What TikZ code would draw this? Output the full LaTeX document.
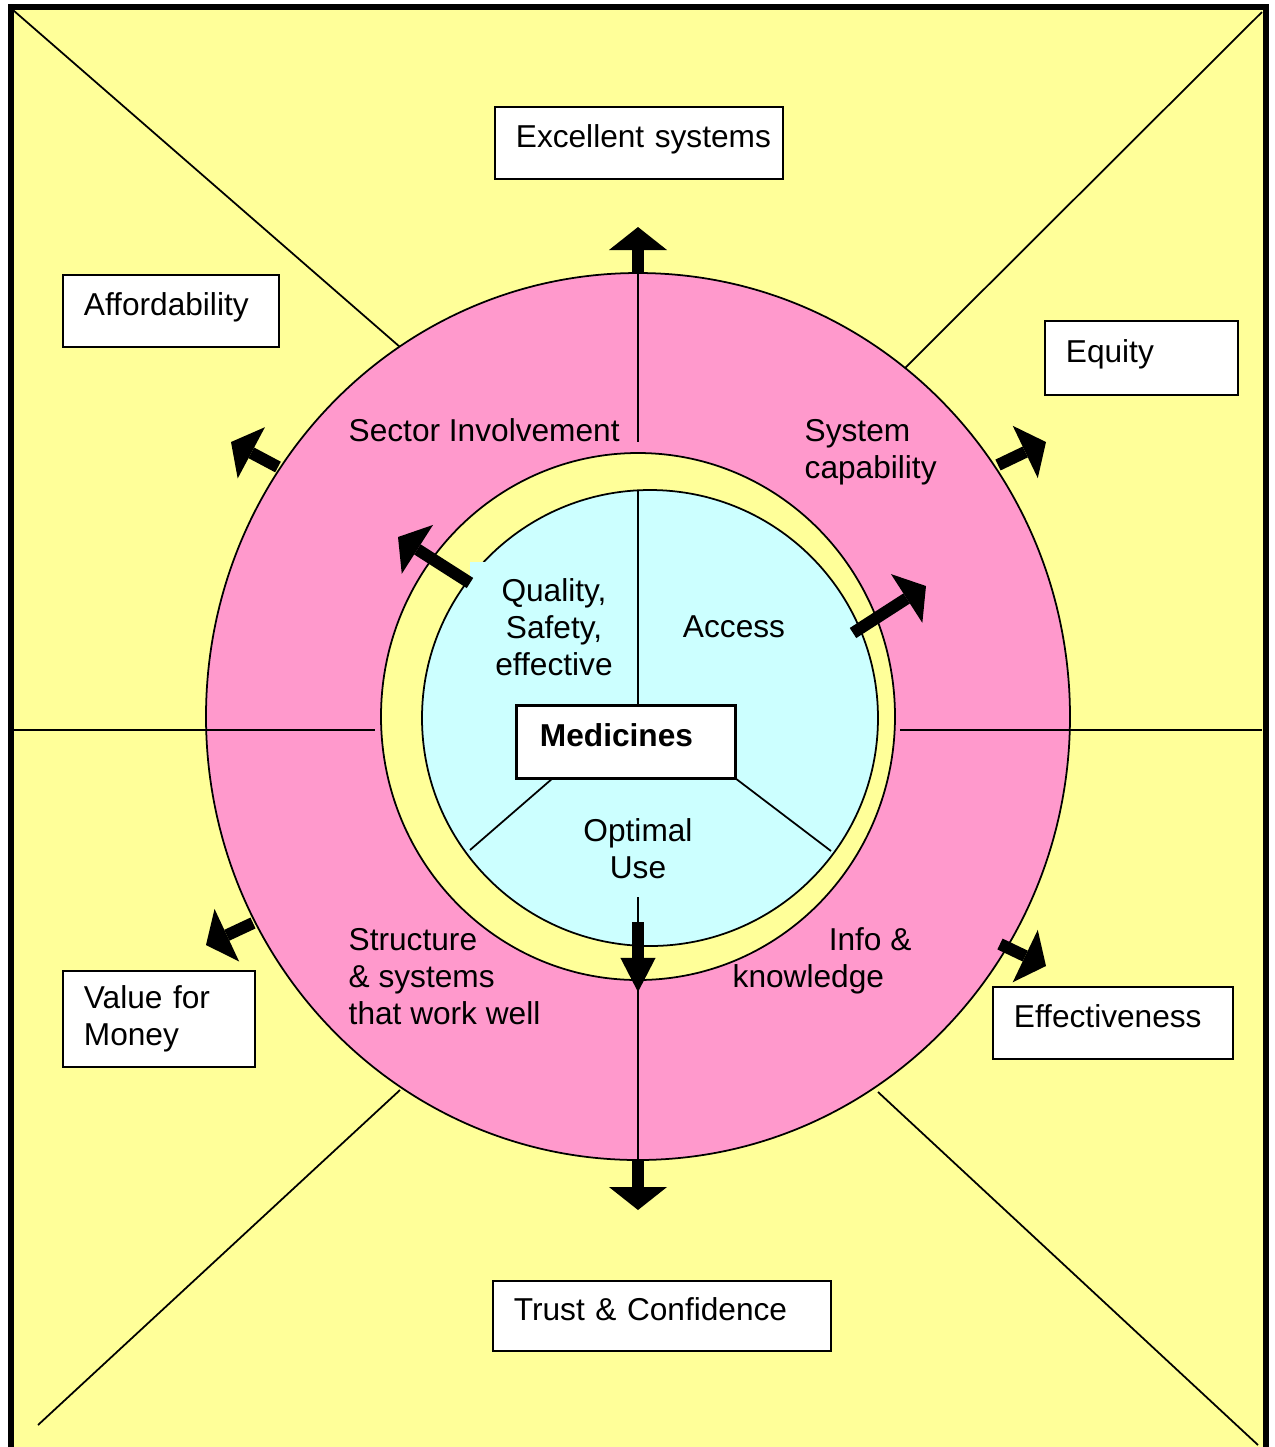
\documentclass[tikz,border=0pt]{standalone}
\usepackage{fontspec}
\setmainfont{Liberation Sans}
\usetikzlibrary{arrows.meta}
\definecolor{bgyellow}{HTML}{FFFF99}
\definecolor{ringpink}{HTML}{FF99CC}
\definecolor{corecyan}{HTML}{CCFFFF}
\tikzset{
  thinline/.style={line width=0.5pt},
  goalbox/.style={draw, thinline, fill=white, anchor=north west, align=left, inner xsep=0.21cm, inner ysep=0pt},
  raised/.style={text depth=0.14cm},
  ringtext/.style={inner sep=0pt},
  bigarrow/.style={line width=0.12cm, -{Triangle[length=0.23cm, width=0.58cm, line width=0pt]}},
}
\begin{document}
\begin{tikzpicture}[x=0.01cm, y=-0.01cm, font=\fontsize{9}{10.5}\selectfont]
\useasboundingbox (0,0) rectangle (1275,1447);
\clip (0,0) rectangle (1275,1447);
%background and frame
\draw[fill=bgyellow, line width=0.06cm] (11,7) rectangle (1265.5,1480);
%diagonals
\draw[thinline] (13,10) -- (400,347);
\draw[thinline] (1262,12) -- (903,370);
\draw[thinline] (38,1425) -- (400,1090);
\draw[thinline] (1258,1445) -- (878,1092);
%outer ring
\fill[ringpink, draw=black, thinline] (638,716.5) ellipse [x radius=432, y radius=443.5];
\draw[thinline] (14,730) -- (375,730);
\draw[thinline] (900,730) -- (1262,730);
\draw[thinline] (638,273) -- (638,442);
\draw[thinline] (638,980) -- (638,1160);
%yellow ring and core
\fill[bgyellow, draw=black, thinline] (638,716.5) ellipse [x radius=257, y radius=263.5];
\fill[corecyan, draw=black, thinline] (650,718) circle [radius=228];
\draw[thinline] (553,778) -- (470,850);
\draw[thinline] (735,778) -- (831,851);
\fill[corecyan] (470,562) rectangle (638,705);
\draw[thinline] (638,490) -- (638,706);
\draw[thinline] (638,897) -- (638,925);
%arrows
\foreach \sx/\sy/\tx/\ty in {638/273/638/227, 638/1160/638/1210, 278/467/231/442, 998/465/1046/442, 253/923/206/945, 1000/944/1046/966, 470/583/398/537, 853/633/926/586}
  \draw[bigarrow] (\sx,\sy) -- (\tx,\ty);
\draw[line width=0.12cm, -{Triangle[length=0.34cm, width=0.35cm, line width=0pt]}] (638,922) -- (638,992);
%centre
\node[draw, line width=0.03cm, fill=white, minimum width=2.18cm, minimum height=0.72cm, text width=1.72cm, align=left, inner xsep=0.23cm, raised, font=\fontsize{9}{10.5}\selectfont\bfseries] (medicines) at (626,742) {Medicines};
%ring texts
\node[ringtext, align=center] (quality) at (554,627) {Quality,\\Safety,\\effective};
\node[ringtext] (access) at (734,627) {Access};
\node[ringtext, align=center] (optimal) at (638,849) {Optimal\\Use};
\node[ringtext, anchor=west] (sector) at (348,430) {Sector Involvement};
\node[ringtext, anchor=west, align=left] (capability) at (804,452) {System\\capability};
\node[ringtext, anchor=west, align=left] (structure) at (348,977) {Structure\\\& systems\\that work well};
\node[ringtext, anchor=west, align=left] (info) at (732,961) {\hspace*{0.96cm}Info \&\\knowledge};
%goals
\node[goalbox, raised, minimum height=0.72cm, text width=2.46cm] (excellent) at (494,106) {\mbox{Excellent systems}};
\node[goalbox, raised, minimum height=0.72cm, text width=1.74cm] (afford) at (62,274) {\mbox{Affordability}};
\node[goalbox, raised, minimum height=0.74cm, text width=1.51cm] (equity) at (1044,320) {Equity};
\node[goalbox, minimum height=0.96cm, text width=1.50cm] (value) at (62,970) {Value for\\Money};
\node[goalbox, raised, minimum height=0.72cm, text width=1.98cm] (effect) at (992,986) {\mbox{Effectiveness}};
\node[goalbox, raised, minimum height=0.70cm, text width=2.96cm] (trust) at (492,1280) {\mbox{Trust \& Confidence}};
\end{tikzpicture}
\end{document}
